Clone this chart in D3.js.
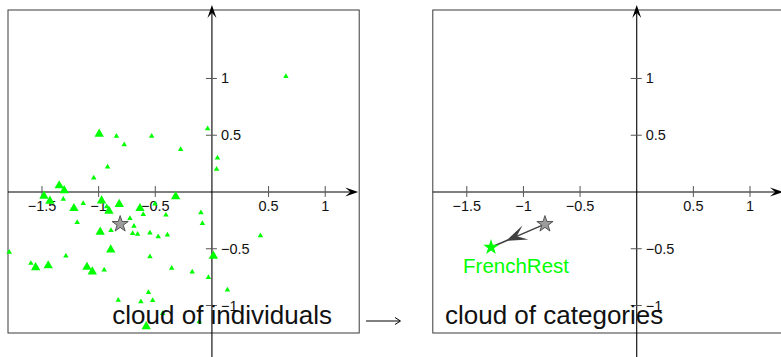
<!DOCTYPE html>
<html>
<head>
<meta charset="utf-8">
<script src="https://cdn.jsdelivr.net/npm/d3@7"></script>
<style>
  html, body { margin: 0; padding: 0; background: #fff; overflow: hidden; }
  text { font-family: "Liberation Sans", Arial, Helvetica, sans-serif; }
</style>
</head>
<body>
<svg id="chart" width="781" height="357"></svg>
<script>
// Individuals projected on the first principal plane (axis 1, axis 2)
const indivX = [0.653, -0.995, -0.843, -0.774, -0.532, -0.276, -0.038, 0.049, 0.041, -0.921,
  -1.043, -1.348, -1.304, -1.483, -1.430, -1.312, -1.136, -1.218, -0.974, -0.929,
  -0.909, -0.818, -1.189, -0.986, -0.891, -0.893, -1.789, -1.289, -0.320, -0.635,
  -0.606, -0.503, -0.406, -0.097, -0.084, -0.724, -0.688, -0.700, -0.656, -0.547,
  -0.474, -0.393, -0.547, 0.013, 0.428, -1.598, -1.556, -1.445, -1.103, -1.056,
  -0.951, -0.355, -0.174, -0.031, 0.137, -0.560, -0.827, -0.627, -0.523, -0.435,
  -0.112, -0.580];
const indivY = [1.019, 0.511, 0.491, 0.417, 0.491, 0.376, 0.558, 0.300, 0.200, 0.220,
  0.125, 0.056, 0.013, -0.035, -0.079, -0.064, -0.100, -0.144, -0.077, -0.130,
  -0.167, -0.108, -0.267, -0.352, -0.339, -0.509, -0.529, -0.564, -0.040, -0.144,
  -0.198, -0.106, -0.203, -0.182, -0.276, -0.232, -0.300, -0.364, -0.372, -0.361,
  -0.394, -0.379, -0.570, -0.564, -0.385, -0.628, -0.665, -0.648, -0.661, -0.702,
  -0.687, -0.672, -0.705, -0.752, -0.863, -0.885, -0.952, -0.967, -0.956, -1.069,
  -1.143, -1.185];
// number of individuals sharing each plotted position
const indivCount = [1, 2, 1, 1, 1, 1, 1, 1, 1, 1,
  1, 2, 2, 2, 2, 1, 1, 2, 2, 1,
  2, 2, 1, 2, 1, 2, 1, 1, 2, 2,
  1, 1, 1, 1, 1, 1, 1, 1, 1, 1,
  1, 1, 1, 2, 1, 1, 2, 2, 2, 2,
  1, 1, 1, 1, 1, 1, 1, 1, 1, 1,
  1, 2];

const meanPoint = [-0.81, -0.283];
const categoryNames = ["FrenchRest"];
const categoryX = [-1.286];
const categoryY = [-0.487];

const xTicks = [-1.5, -1, -0.5, 0.5, 1];
const yTicks = [1, 0.5, -0.5, -1];
const panelTitles = ["cloud of individuals", "cloud of categories"];

const GREEN = "#00ff00";
const svg = d3.select("#chart");

// shared plane scales (equal units on both axes)
const xScale = d3.scaleLinear().domain([-1.8, 1.3]).range([8, 359.2]);
const yScale = d3.scaleLinear().domain([-1.242, 1.603]).range([333, 10]);
const fmt = d3.format("");

function arrowHead(g, tip, dir, len, half, notch, fill) {
  const [tx, ty] = tip, [dx, dy] = dir;
  const nx = -dy, ny = dx;
  const pts = [
    [tx, ty],
    [tx - len * dx + half * nx, ty - len * dy + half * ny],
    [tx - notch * len * dx, ty - notch * len * dy],
    [tx - len * dx - half * nx, ty - len * dy - half * ny]
  ];
  g.append("path").attr("d", d3.line()(pts) + "Z").attr("fill", fill).attr("stroke", "none");
}

function drawPlane(g, titleAnchor, titleX) {
  const [x0, x1] = xScale.range();
  const [yb, yt] = yScale.range();
  const cx = xScale(0), cy = yScale(0);

  g.append("rect").attr("x", x0).attr("y", yt).attr("width", x1 - x0).attr("height", yb - yt)
    .attr("fill", "none").attr("stroke", "#3a3a3a").attr("stroke-width", 1);

  // axis 1
  g.append("line").attr("x1", x0).attr("x2", x1 - 4).attr("y1", cy).attr("y2", cy)
    .attr("stroke", "#000").attr("stroke-width", 1.1);
  arrowHead(g, [x1 - 1, cy], [1, 0], 13, 4.5, 0.6, "#000");
  // axis 2
  g.append("line").attr("x1", cx).attr("x2", cx).attr("y1", 357).attr("y2", yt - 2)
    .attr("stroke", "#000").attr("stroke-width", 1.1);
  arrowHead(g, [cx, yt - 5], [0, -1], 13, 4.5, 0.6, "#000");

  // ticks and labels on axis 1
  const xt = g.append("g").selectAll("g").data(xTicks).join("g")
    .attr("transform", d => `translate(${xScale(d)},${cy})`);
  xt.append("line").attr("y1", -6).attr("y2", 5).attr("stroke", "#555");
  xt.append("text").attr("y", 19).attr("text-anchor", "middle")
    .attr("font-size", 14.5).attr("fill", "#111").text(d => fmt(d));

  // ticks and labels on axis 2
  const yt2 = g.append("g").selectAll("g").data(yTicks).join("g")
    .attr("transform", d => `translate(${cx},${yScale(d)})`);
  yt2.append("line").attr("x1", -6).attr("x2", 5).attr("stroke", "#555");
  yt2.append("text").attr("x", 9).attr("y", 5).attr("text-anchor", "start")
    .attr("font-size", 14.5).attr("fill", "#111").text(d => fmt(d));
}

// ---- left plane: cloud of individuals ----
const left = svg.append("g");
drawPlane(left);

const indiv = d3.range(indivX.length).map(i => ({ x: indivX[i], y: indivY[i], n: indivCount[i] }));
const triSize = d3.scaleOrdinal().domain([1, 2]).range([13, 38]);
left.append("g").selectAll("path").data(indiv).join("path")
  .attr("transform", d => `translate(${xScale(d.x)},${yScale(d.y)})`)
  .attr("d", d => d3.symbol(d3.symbolTriangle, triSize(d.n))())
  .attr("fill", GREEN);

left.append("path")
  .attr("transform", `translate(${xScale(meanPoint[0])},${yScale(meanPoint[1])})`)
  .attr("d", d3.symbol(d3.symbolStar, 82)())
  .attr("fill", "#9c9c9c").attr("stroke", "#555").attr("stroke-width", 1);

left.append("text").attr("x", 332).attr("y", 324).attr("text-anchor", "end")
  .attr("font-size", 26).attr("fill", "#111").text(panelTitles[0]);

// arrow between the two planes
const mid = svg.append("g").attr("stroke", "#000").attr("stroke-width", 1).attr("fill", "none");
mid.append("line").attr("x1", 366).attr("x2", 400).attr("y1", 321).attr("y2", 321);
mid.append("path").attr("d", "M395,317.5 L400.5,321 L395,324.5");

// ---- right plane: cloud of categories ----
const right = svg.append("g").attr("transform", "translate(424.8,0)");
drawPlane(right);

const gx = xScale(meanPoint[0]), gy = yScale(meanPoint[1]);
const kx = xScale(categoryX[0]), ky = yScale(categoryY[0]);
const len = Math.hypot(kx - gx, ky - gy);
const dir = [(kx - gx) / len, (ky - gy) / len];

right.append("line").attr("x1", gx).attr("y1", gy).attr("x2", kx + dir[0] * -2).attr("y2", ky + dir[1] * -2)
  .attr("stroke", "#404040").attr("stroke-width", 1.4);
arrowHead(right, [gx + dir[0] * len * 0.72, gy + dir[1] * len * 0.72], dir, 21, 7.5, 0.55, "#404040");

right.append("path")
  .attr("transform", `translate(${gx},${gy})`)
  .attr("d", d3.symbol(d3.symbolStar, 82)())
  .attr("fill", "#9c9c9c").attr("stroke", "#555").attr("stroke-width", 1);

right.append("path")
  .attr("transform", `translate(${kx},${ky})`)
  .attr("d", d3.symbol(d3.symbolStar, 76)())
  .attr("fill", GREEN);

right.append("text").attr("x", kx + 25).attr("y", ky + 25.5).attr("text-anchor", "middle")
  .attr("font-size", 20.5).attr("fill", GREEN).text(categoryNames[0]);

right.append("text").attr("x", 445 - 424.8).attr("y", 324).attr("text-anchor", "start")
  .attr("font-size", 26).attr("fill", "#111").text(panelTitles[1]);
</script>
</body>
</html>
